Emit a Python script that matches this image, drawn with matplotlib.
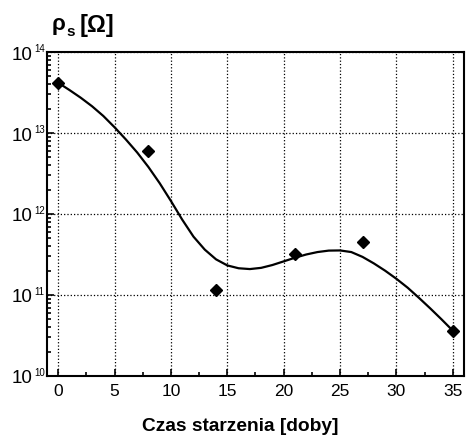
import numpy as np
import matplotlib
matplotlib.use("Agg")
import matplotlib.pyplot as plt
from matplotlib.ticker import LogLocator, MultipleLocator, NullFormatter

plt.rcParams['font.family'] = ['Liberation Sans', 'DejaVu Sans']

# measured points
days = [0, 8, 14, 21, 27, 35]
rho_s = [4.2e13, 6.0e12, 1.15e11, 3.2e11, 4.45e11, 3.6e10]

# trend curve (log10 of rho_s, one value per day)
curve_x = list(range(0, 36))
curve_log = [13.62, 13.53, 13.435, 13.33, 13.21, 13.07, 12.92, 12.76, 12.58,
             12.38, 12.16, 11.93, 11.72, 11.56, 11.44, 11.365, 11.33, 11.32,
             11.335, 11.37, 11.415, 11.46, 11.50, 11.53, 11.548, 11.55, 11.53,
             11.47, 11.39, 11.30, 11.20, 11.09, 10.965, 10.835, 10.70, 10.56]

decades = [10, 11, 12, 13, 14]

fig = plt.figure(figsize=(4.67, 4.4), dpi=100)
ax = fig.add_axes([0.1006, 0.1455, 0.893, 0.7363])

ax.plot(curve_x, 10 ** np.array(curve_log), color='black', lw=1.6,
        solid_joinstyle='round')
ax.plot(days, rho_s, linestyle='none', marker='D', ms=6.5, color='black')

ax.set_yscale('log')
ax.set_xlim(-1, 36)
ax.set_ylim(1e10, 1e14)

ax.xaxis.set_major_locator(MultipleLocator(5))
ax.xaxis.set_minor_locator(MultipleLocator(2.5))
ax.yaxis.set_major_locator(LogLocator(base=10, numticks=10))
ax.yaxis.set_minor_locator(LogLocator(base=10, subs=np.arange(2, 10), numticks=20))
ax.yaxis.set_minor_formatter(NullFormatter())

ax.tick_params(which='both', direction='in', top=False, right=False,
               labelsize=12.5, width=1.2)
ax.tick_params(which='major', length=5, pad=6)
ax.tick_params(which='minor', length=3)
ax.tick_params(axis='y', labelleft=False)

# y tick labels: 10 with small exponent
for d in decades:
    ax.annotate('10', xy=(0, 10.0 ** d), xycoords=('axes fraction', 'data'),
                xytext=(-14, -3), textcoords='offset pixels',
                ha='right', va='center', fontsize=13.5)
    ax.annotate(str(d), xy=(0, 10.0 ** d), xycoords=('axes fraction', 'data'),
                xytext=(-13, 3), textcoords='offset pixels',
                ha='left', va='center', fontsize=7)

ax.grid(True, which='major', linestyle=':', color='black', lw=0.9)
for s in ax.spines.values():
    s.set_linewidth(1.5)

fig.text(240 / 467, 1 - 426 / 440, 'Czas starzenia [doby]', fontsize=13.8,
         fontweight='bold', ha='center', va='center')

# y axis title with subscript
fig.text(52 / 467, 1 - 30 / 440, 'ρ', fontsize=16, fontweight='bold', va='baseline')
fig.text(66 / 467, 1 - 36 / 440, 's', fontsize=11, fontweight='bold', va='baseline')
fig.text(80 / 467, 1 - 32 / 440, '[Ω]', fontsize=17, fontweight='bold', va='baseline')

fig.savefig('out.png', dpi=100)
